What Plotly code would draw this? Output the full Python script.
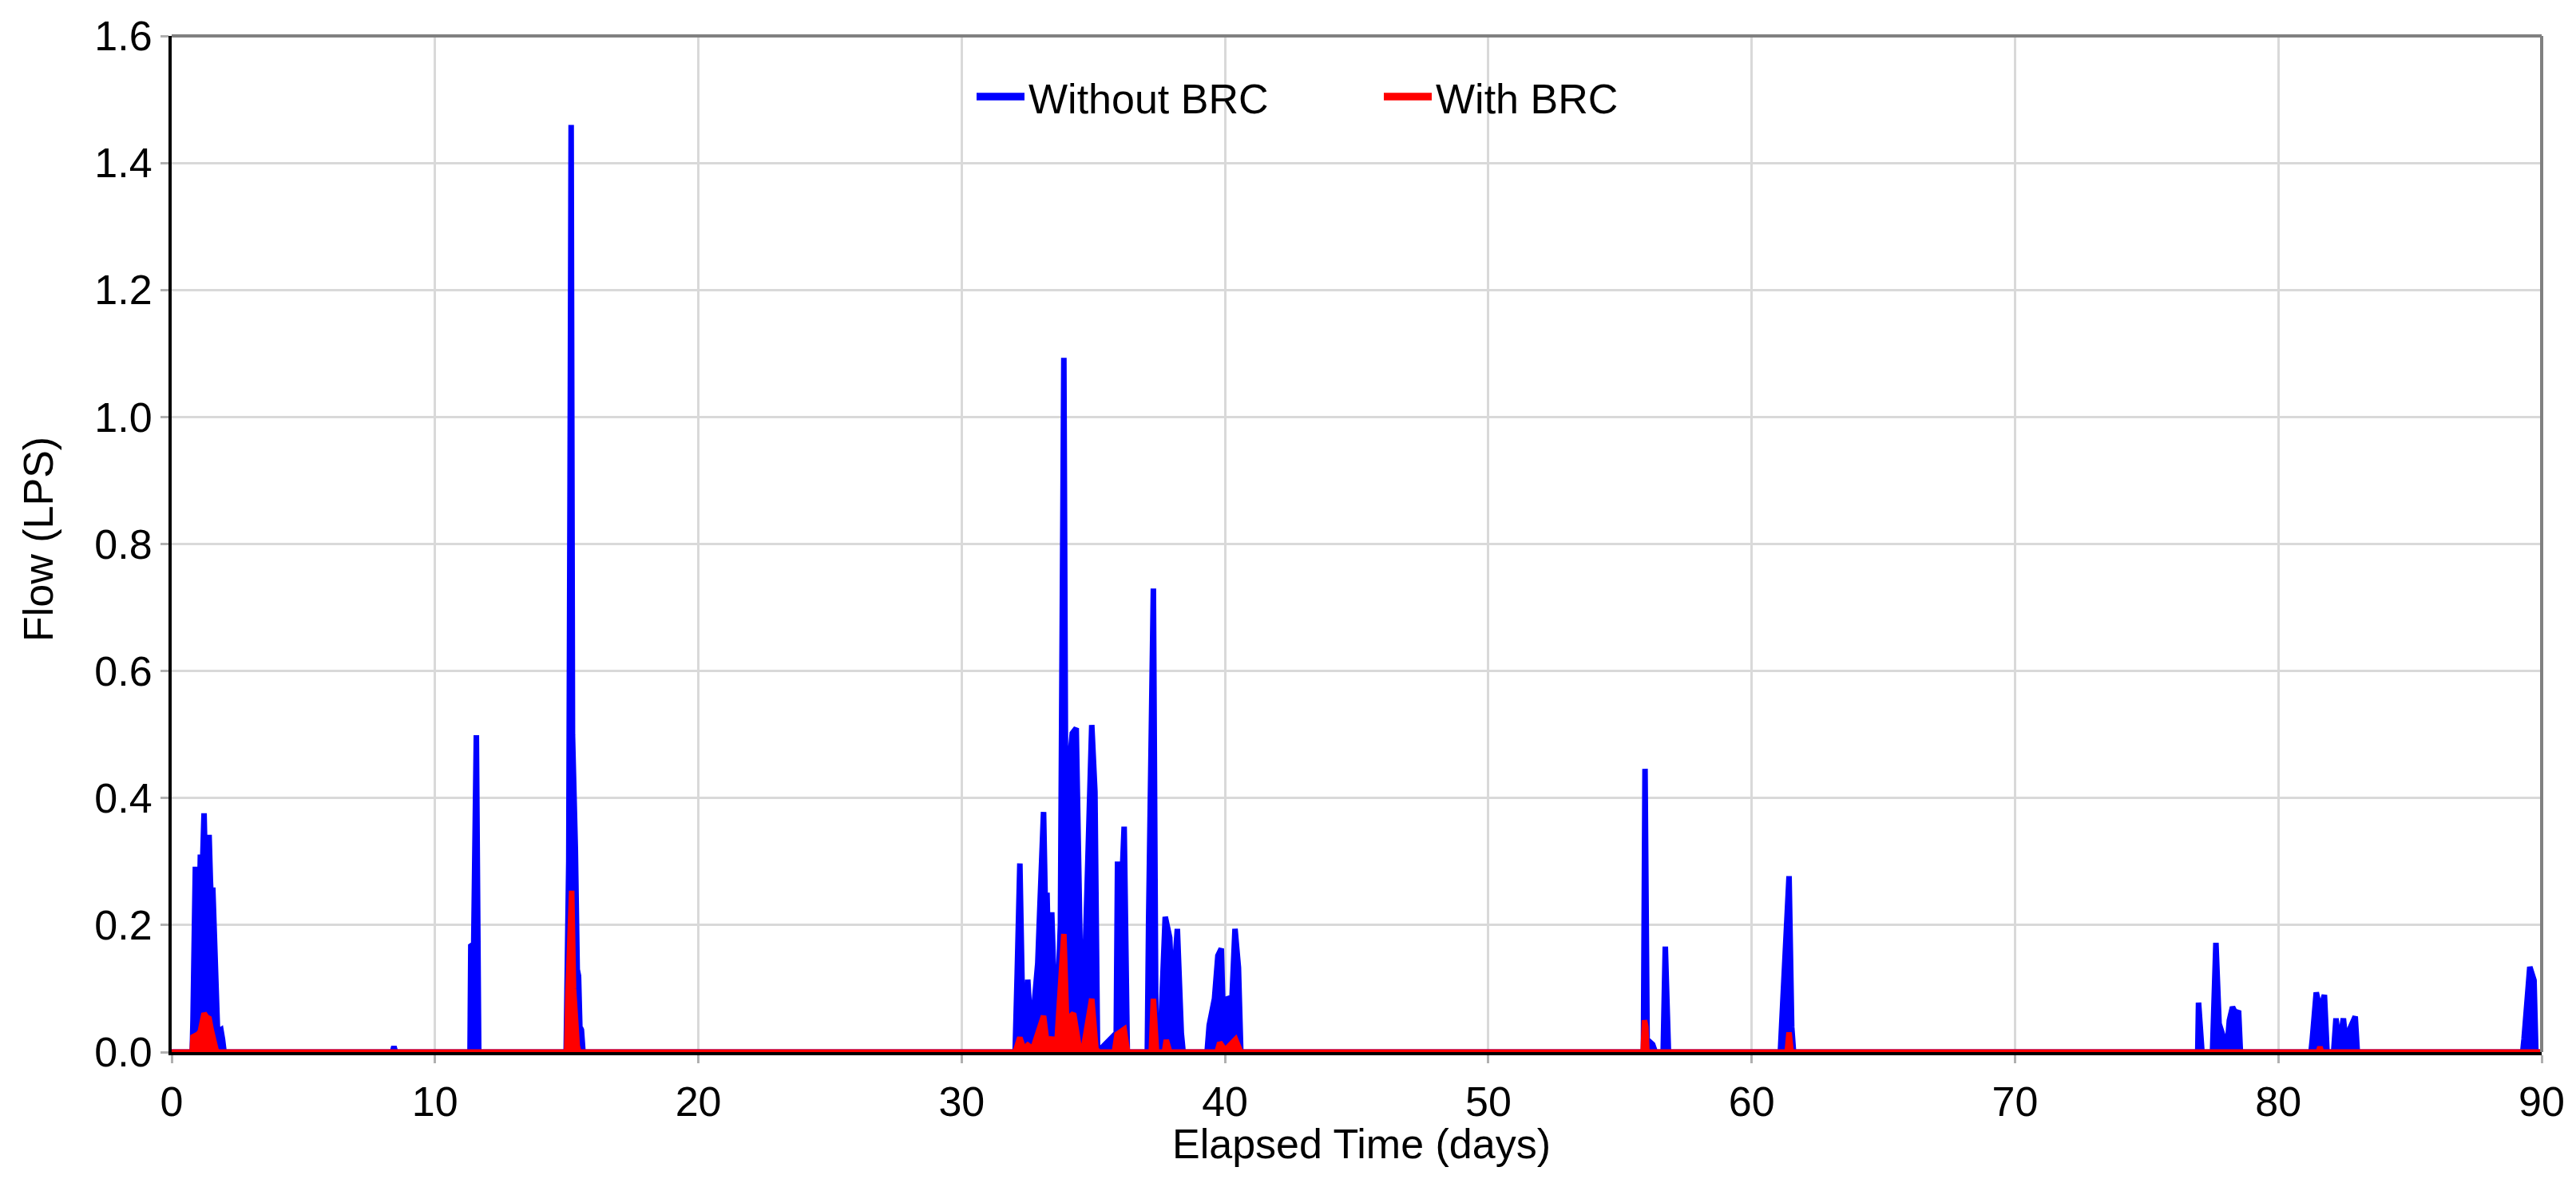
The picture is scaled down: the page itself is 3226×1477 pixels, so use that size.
import plotly.graph_objects as go

# ---- data ----
days_without = [
    0.00, 0.78, 0.81, 0.86, 0.90, 0.95, 1.00, 1.05, 1.09, 1.14, 1.19, 1.23, 1.28, 1.33, 1.38,
    1.42, 1.47, 1.52, 1.56, 1.62, 1.68, 1.72, 1.76, 1.80, 1.87, 1.93, 1.99,
    8.38, 8.44, 8.50,
    11.33, 11.36, 11.47, 11.57, 11.62, 11.66,
    14.98, 15.03, 15.08, 15.13, 15.17, 15.22, 15.28, 15.33, 15.40, 15.45, 15.50, 15.56, 15.62,
    32.03, 32.11, 32.21, 32.31, 32.38, 32.45, 32.51, 32.64, 32.79, 32.89, 32.96, 33.11, 33.19,
    33.24, 33.32, 33.42, 33.54, 33.65, 33.75, 33.88, 33.95, 34.05, 34.15, 34.20, 34.35, 34.45,
    34.56, 34.66, 34.81, 34.94, 35.06, 35.16,
    35.87, 35.92, 36.07, 36.17, 36.29,
    37.05, 37.10, 37.28, 37.38, 37.58, 37.73, 37.90, 38.00, 38.19, 38.34, 38.41,
    39.32, 39.40, 39.60, 39.73, 39.86, 39.96, 40.11, 40.26, 40.38, 40.51, 40.60,
    55.89, 55.95, 56.03, 56.24, 56.34, 56.64, 56.72, 56.84,
    61.09, 61.14, 61.26, 61.42, 61.52, 61.59,
    76.94, 76.97, 77.10, 77.50, 77.63, 77.75, 77.91, 78.04, 78.14, 78.26, 78.39, 78.49, 78.56,
    81.24, 81.29, 81.44, 81.59, 81.75, 81.85,
    82.10, 82.19, 82.31, 82.47, 82.60, 82.72, 82.92, 83.00,
    89.28, 89.33, 89.55, 89.71, 89.78, 90.00,
]
flow_without = [
    0.000, 0.000, 0.050, 0.200, 0.292, 0.220, 0.250, 0.220, 0.311, 0.250, 0.300, 0.376, 0.280, 0.300, 0.260,
    0.342, 0.270, 0.220, 0.259, 0.160, 0.107, 0.030, 0.010, 0.033, 0.035, 0.020, 0.000,
    0.000, 0.009, 0.000,
    0.000, 0.167, 0.170, 0.499, 0.200, 0.000,
    0.000, 0.290, 0.300, 0.905, 1.460, 0.500, 0.320, 0.318, 0.130, 0.120, 0.040, 0.035, 0.000,
    0.000, 0.125, 0.297, 0.070, 0.095, 0.050, 0.114, 0.020, 0.087, 0.140, 0.217, 0.378, 0.200,
    0.251, 0.100, 0.220, 0.060, 0.087, 0.200, 1.093, 0.384, 0.380, 0.480, 0.502, 0.510, 0.300,
    0.020, 0.110, 0.316, 0.515, 0.410, 0.000,
    0.030, 0.300, 0.250, 0.355, 0.000,
    0.000, 0.208, 0.730, 0.000, 0.057, 0.213, 0.180, 0.080, 0.194, 0.030, 0.000,
    0.000, 0.042, 0.084, 0.152, 0.163, 0.010, 0.087, 0.080, 0.194, 0.133, 0.000,
    0.000, 0.446, 0.020, 0.012, 0.000, 0.000, 0.166, 0.000,
    0.000, 0.043, 0.135, 0.277, 0.040, 0.000,
    0.000, 0.078, 0.000, 0.000, 0.172, 0.045, 0.024, 0.000, 0.050, 0.071, 0.060, 0.065, 0.000,
    0.000, 0.020, 0.094, 0.066, 0.090, 0.000,
    0.000, 0.053, 0.010, 0.053, 0.000, 0.037, 0.056, 0.000,
    0.000, 0.020, 0.134, 0.113, 0.000, 0.000,
]

days_with = [
    0.00, 0.78, 0.81, 0.90, 1.00, 1.09, 1.16, 1.23, 1.33, 1.42, 1.50, 1.56, 1.62, 1.68, 1.74,
    15.00, 15.05, 15.12, 15.19, 15.26, 15.33, 15.40, 15.46,
    32.03, 32.21, 32.35, 32.51, 32.70, 33.11, 33.25, 33.42, 33.60, 33.88, 33.98, 34.10, 34.25,
    34.45, 34.60, 34.94, 35.10, 35.20, 35.80, 35.90, 36.17, 36.30,
    37.20, 37.28, 37.40, 37.70, 37.77, 37.90,
    39.70, 39.80, 40.00, 40.40, 40.60,
    55.88, 55.93, 55.98, 56.02,
    61.35, 61.42, 61.50,
    81.52, 81.58, 81.64,
    90.00,
]
flow_with = [
    0.000, 0.000, 0.024, 0.026, 0.028, 0.033, 0.050, 0.061, 0.055, 0.053, 0.035, 0.024, 0.012, 0.004, 0.000,
    0.000, 0.094, 0.200, 0.254, 0.100, 0.035, 0.010, 0.000,
    0.000, 0.023, 0.005, 0.011, 0.005, 0.057, 0.010, 0.023, 0.004, 0.186, 0.057, 0.055, 0.061,
    0.010, 0.000, 0.084, 0.005, 0.000, 0.000, 0.028, 0.036, 0.000,
    0.000, 0.084, 0.000, 0.000, 0.019, 0.000,
    0.000, 0.015, 0.003, 0.020, 0.000,
    0.000, 0.050, 0.040, 0.000,
    0.000, 0.031, 0.000,
    0.000, 0.008, 0.000,
    0.000,
]

x_ticks = [0, 10, 20, 30, 40, 50, 60, 70, 80, 90]
y_ticks = [0.0, 0.2, 0.4, 0.6, 0.8, 1.0, 1.2, 1.4, 1.6]
series_names = ["Without BRC", "With BRC"]
x_title = "Elapsed Time (days)"
y_title = "Flow (LPS)"

FONT = "Liberation Sans, Arial, sans-serif"
W, H = 3226, 1477
L, R, T, B = 207, 3226 - 3175, 37, 1477 - 1310
PW, PH = W - L - R, H - T - B
title_font = dict(family=FONT, size=52, color="black")


def px_to_paper_x(px):
    return (px - L) / PW


def px_to_paper_y(py):
    return (H - B - py) / PH


fig = go.Figure()
fig.add_trace(go.Scatter(x=days_without, y=flow_without, mode="lines", name=series_names[0],
                         line=dict(color="#0000ff", width=7), fill="tozeroy", fillcolor="#0000ff"))
fig.add_trace(go.Scatter(x=days_with, y=flow_with, mode="lines", name=series_names[1],
                         line=dict(color="#ff0000", width=7), fill="tozeroy", fillcolor="#ff0000"))

fig.update_layout(
    width=W, height=H,
    margin=dict(l=L, r=R, t=T, b=B, autoexpand=False),
    paper_bgcolor="white", plot_bgcolor="white",
    font=dict(family=FONT, size=52, color="black"),
    showlegend=True,
    legend=dict(orientation="h", xref="container", yref="container", xanchor="left",
                yanchor="middle", x=1210 / W, y=1 - 114 / H,
                bgcolor="rgba(0,0,0,0)", borderwidth=0, itemwidth=60,
                entrywidth=435, entrywidthmode="pixels",
                font=dict(family=FONT, size=52, color="black")),
    xaxis=dict(range=[0, 90], tickvals=x_ticks, ticktext=[str(v) for v in x_ticks],
               showgrid=True, gridcolor="#d9d9d9", gridwidth=3, zeroline=False,
               showline=True, linecolor="black", linewidth=4, layer="below traces",
               ticks="outside", ticklen=10, tickwidth=3, tickcolor="#b0b0b0",
               ticklabelstandoff=4,
               tickfont=dict(family=FONT, size=52, color="black")),
    yaxis=dict(range=[0, 1.6], tickvals=y_ticks, ticktext=[f"{v:.1f}" for v in y_ticks],
               showgrid=True, gridcolor="#d9d9d9", gridwidth=3, zeroline=False,
               showline=True, linecolor="black", linewidth=4, layer="below traces",
               ticks="outside", ticklen=10, tickwidth=3, tickcolor="#b0b0b0",
               tickfont=dict(family=FONT, size=52, color="black")),
    annotations=[
        dict(text=x_title, xref="paper", yref="paper",
             x=px_to_paper_x(1697), y=px_to_paper_y(1425),
             xanchor="center", yanchor="middle", showarrow=False, font=title_font),
        dict(text=y_title, xref="paper", yref="paper",
             x=px_to_paper_x(40), y=px_to_paper_y(668),
             xanchor="center", yanchor="middle", showarrow=False, textangle=-90, font=title_font),
    ],
    shapes=[
        dict(type="line", xref="paper", yref="paper", x0=0, x1=1, y0=1, y1=1,
             line=dict(color="#808080", width=4), layer="above"),
        dict(type="line", xref="paper", yref="paper", x0=1, x1=1, y0=0, y1=1,
             line=dict(color="#808080", width=4), layer="above"),
    ],
)

fig.write_html("out.html")
